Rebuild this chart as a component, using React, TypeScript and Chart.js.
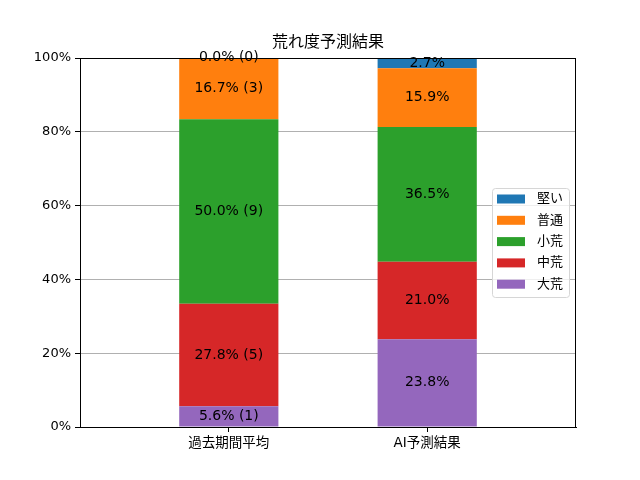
import { useEffect, useRef } from "react";
import { Chart, registerables } from "chart.js";

Chart.register(...registerables);

// ─── Data ─────────────────────────────────────────────────────────────────────
const categories = ["過去期間平均", "AI予測結果"];
const seriesNames = ["大荒", "中荒", "小荒", "普通", "堅い"]; // bottom → top
const seriesColors = ["#9467bd", "#d62728", "#2ca02c", "#ff7f0e", "#1f77b4"];
const pastValues = [5.6, 27.8, 50.0, 16.7, 0.0];
const pastCounts = [1, 5, 9, 3, 0];
const aiValues = [23.8, 21.0, 36.5, 15.9, 2.7];
const yTicks = [0, 20, 40, 60, 80, 100];

const FONT = "'DejaVu Sans', 'Noto Sans CJK JP', sans-serif";

const labelFor = (cat: number, s: number) =>
  cat === 0
    ? `${pastValues[s].toFixed(1)}% (${pastCounts[s]})`
    : `${aiValues[s].toFixed(1)}%`;

// ─── Plugin: frame, title, segment labels, legend ─────────────────────────────
const extras = {
  id: "extras",
  afterDatasetsDraw(chart: any) {
    const { ctx, chartArea: a } = chart;
    ctx.save();
    ctx.fillStyle = "#000";
    ctx.font = `14px ${FONT}`;
    ctx.textAlign = "center";
    ctx.textBaseline = "middle";
    chart.data.datasets.forEach((_: any, s: number) => {
      const meta = chart.getDatasetMeta(s);
      meta.data.forEach((el: any, i: number) => {
        const cy = (el.y + el.base) / 2;
        ctx.fillText(labelFor(i, s), el.x, cy);
      });
    });

    // frame
    ctx.strokeStyle = "#000";
    ctx.lineWidth = 1;
    ctx.strokeRect(a.left + 0.5, a.top + 0.5, a.right - a.left - 1, a.bottom - a.top);

    // title
    ctx.font = `16px ${FONT}`;
    ctx.fillText("荒れ度予測結果", (a.left + a.right) / 2, 43);

    // legend
    const lx = 492, ly = 188, lw = 77, lh = 109;
    ctx.fillStyle = "rgba(255,255,255,0.8)";
    ctx.strokeStyle = "#d6d6d6";
    ctx.beginPath();
    ctx.roundRect(lx + 0.5, ly + 0.5, lw, lh, 3);
    ctx.fill();
    ctx.stroke();
    ctx.font = `13px ${FONT}`;
    ctx.textAlign = "left";
    for (let k = 0; k < seriesNames.length; k++) {
      const s = seriesNames.length - 1 - k;
      const y = 199 + k * 21.3;
      ctx.fillStyle = seriesColors[s];
      ctx.fillRect(497, y - 4.5, 28, 9);
      ctx.fillStyle = "#000";
      ctx.fillText(seriesNames[s], 537, y);
    }
    ctx.restore();
  },
};

// ─── Component ────────────────────────────────────────────────────────────────
export default function App() {
  const canvasRef = useRef<HTMLCanvasElement | null>(null);

  useEffect(() => {
    if (!canvasRef.current) return;
    const chart = new Chart(canvasRef.current, {
      type: "bar",
      data: {
        datasets: seriesNames.map((name, s) => ({
          label: name,
          data: [
            { x: 0, y: pastValues[s] },
            { x: 1, y: aiValues[s] },
          ],
          backgroundColor: seriesColors[s],
          borderWidth: 0,
          barPercentage: 0.5,
          categoryPercentage: 1,
        })),
      },
      options: {
        animation: false,
        responsive: false,
        devicePixelRatio: 1,
        layout: { padding: { left: 0, right: 64, top: 58, bottom: 0 } },
        plugins: {
          legend: { display: false },
          title: { display: false },
          tooltip: { enabled: false },
        },
        scales: {
          x: {
            type: "linear",
            stacked: true,
            offset: false,
            min: -0.75,
            max: 1.75,
            afterBuildTicks: (scale: any) => {
              scale.ticks = categories.map((_, i) => ({ value: i }));
            },
            afterFit: (scale: any) => {
              scale.height = 53;
            },
            grid: {
              offset: false,
              drawOnChartArea: false,
              tickLength: 5,
              tickColor: "#000",
            },
            border: { color: "#000" },
            ticks: {
              color: "#000",
              font: { family: FONT, size: 13.5 },
              padding: 3,
              maxRotation: 0,
              callback: (v: any) => categories[v] ?? "",
            },
          },
          y: {
            stacked: true,
            min: 0,
            max: 100,
            afterBuildTicks: (scale: any) => {
              scale.ticks = yTicks.map((v) => ({ value: v }));
            },
            afterFit: (scale: any) => {
              scale.width = 80;
            },
            grid: {
              color: "#b0b0b0",
              tickLength: 5,
              tickColor: "#000",
            },
            border: { color: "#000" },
            ticks: {
              color: "#000",
              font: { family: FONT, size: 13 },
              padding: 4,
              callback: (v: any) => `${v}%`,
            },
          },
        },
      },
      plugins: [extras],
    });
    return () => chart.destroy();
  }, []);

  return (
    <>
      <style>{`body { margin: 0; background: #fff; }`}</style>
      <div style={{ width: 640, height: 480 }}>
        <canvas ref={canvasRef} width={640} height={480} />
      </div>
    </>
  );
}
